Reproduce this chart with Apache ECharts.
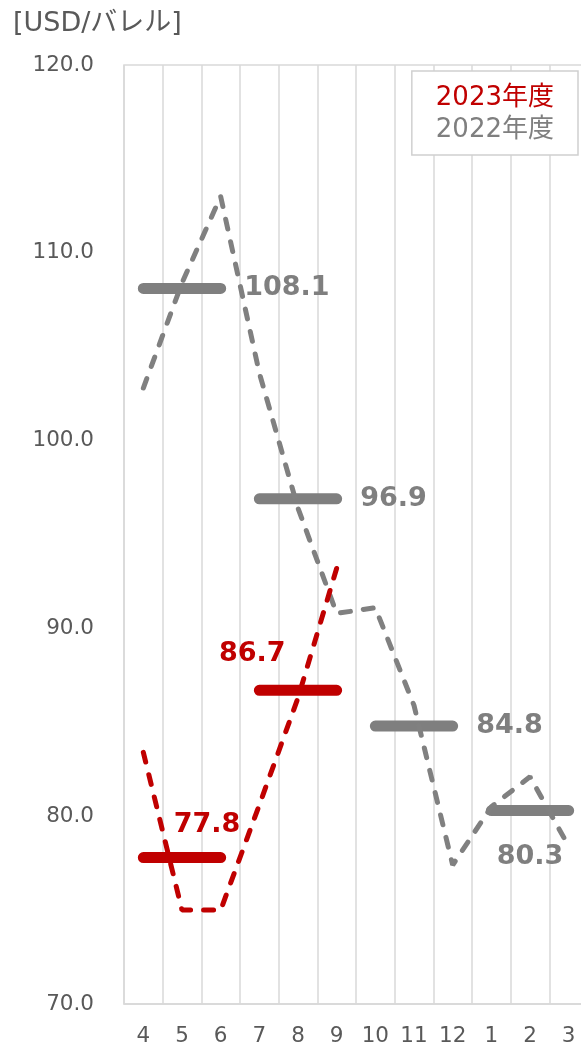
<!DOCTYPE html>
<html><head><meta charset="utf-8">
<script src="https://cdn.jsdelivr.net/npm/echarts@6/dist/echarts.min.js"></script>
<style>html,body{margin:0;padding:0;background:#fff;overflow:hidden}#c{width:600px;height:1051px}</style>
</head><body><div id="c"></div>
<script>
const months = ['4','5','6','7','8','9','10','11','12','1','2','3'];
const fy2022 = [102.8, 108.4, 113.0, 103.6, 96.4, 90.8, 91.1, 85.9, 77.4, 80.5, 82.1, 78.4];
const fy2023 = [83.4, 75.0, 75.0, 80.6, 86.3, 93.2, null, null, null, null, null, null];
const avg2022 = [108.1, 96.9, 84.8, 80.3];
const avg2023 = [77.8, 86.7];
const yTicks = [70, 80, 90, 100, 110, 120];

const RED = '#C00000', GRAY = '#7F7F7F';
const FONT = '"DejaVu Sans", "Noto Sans CJK JP", sans-serif';

function avgSeries(name, avgs, color, labelCfgs) {
  return avgs.map((v, q) => {
    const data = months.map(() => null);
    for (let i = 0; i < 3; i++) data[q * 3 + i] = v;
    const cfg = labelCfgs[q];
    data[q * 3 + cfg.idx] = {
      value: v,
      label: Object.assign({
        show: true, formatter: v.toFixed(1), color: color,
        fontSize: 27, fontWeight: 'bold', fontFamily: FONT
      }, cfg.label)
    };
    return {
      name: name, type: 'line', data: data, symbol: 'circle', symbolSize: 1,
      itemStyle: { color: color }, lineStyle: { color: color, width: 11, cap: 'round' },
      z: 3, silent: true, animation: false
    };
  });
}

const series = [
  {
    name: '2022年度', type: 'line', data: fy2022, symbol: 'none',
    lineStyle: { color: '#808080', width: 5, type: [10, 13], cap: 'round' }, z: 4, animation: false
  },
  ...avgSeries('2022年度', avg2022, GRAY, [
    { idx: 2, label: { position: 'right', distance: 23 } },
    { idx: 2, label: { position: 'right', distance: 23 } },
    { idx: 2, label: { position: 'right', distance: 23 } },
    { idx: 1, label: { position: 'inside', offset: [0, 46] } }
  ]),
  ...avgSeries('2023年度', avg2023, RED, [
    { idx: 1, label: { position: 'inside', offset: [25, -33] } },
    { idx: 0, label: { position: 'inside', offset: [-7, -36] } }
  ]),
  {
    name: '2023年度', type: 'line', data: fy2023, symbol: 'none',
    lineStyle: { color: RED, width: 5, type: [10, 13], cap: 'round' }, z: 5, animation: false
  }
];

const chart = echarts.init(document.getElementById('c'));
chart.setOption({
  animation: false,
  textStyle: { fontFamily: FONT },
  title: {
    text: '[USD/バレル]', left: 8, top: 5,
    textStyle: { fontSize: 27, fontWeight: 'normal', color: '#595959', fontFamily: FONT }
  },
  legend: {
    orient: 'vertical', right: 22, top: 71,
    padding: [14, 24, 12, 24], itemGap: 6, itemWidth: 0, itemHeight: 0, icon: 'none',
    borderColor: '#d0d0d0', borderWidth: 1.5, backgroundColor: '#fff',
    textStyle: { fontSize: 26, fontFamily: FONT, padding: [0, 0, 0, -5] },
    data: [
      { name: '2023年度', textStyle: { color: RED } },
      { name: '2022年度', textStyle: { color: GRAY } }
    ],
    selectedMode: false
  },
  grid: {
    left: 124, top: 65, width: 464, height: 939, show: true,
    borderColor: '#d9d9d9', borderWidth: 1.5
  },
  xAxis: {
    type: 'category', data: months, boundaryGap: true,
    axisLine: { show: true, lineStyle: { color: '#d9d9d9', width: 1.5 } },
    axisTick: { show: false },
    splitLine: { show: true, lineStyle: { color: '#d9d9d9', width: 1.5 } },
    axisLabel: { color: '#595959', fontSize: 21.5, margin: 22, fontFamily: FONT, interval: 0 }
  },
  yAxis: {
    type: 'value', min: yTicks[0], max: yTicks[yTicks.length - 1], interval: 10,
    axisLine: { show: false }, axisTick: { show: false }, splitLine: { show: false },
    axisLabel: { color: '#595959', fontSize: 21.5, margin: 30, fontFamily: FONT,
      formatter: v => v.toFixed(1) }
  },
  series: series
});
</script></body></html>
